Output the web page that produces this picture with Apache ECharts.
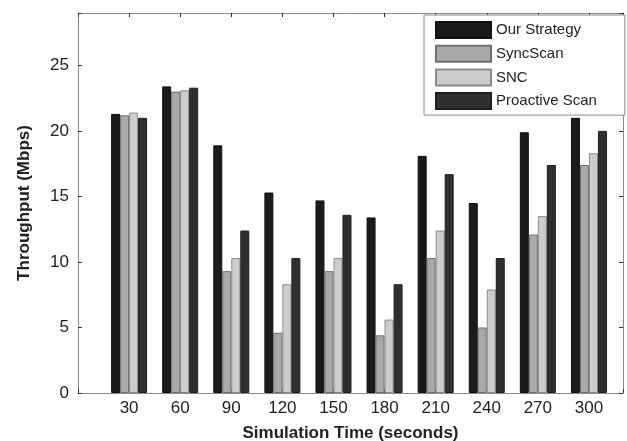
<!DOCTYPE html>
<html>
<head>
<meta charset="utf-8">
<script src="https://cdn.jsdelivr.net/npm/echarts@6/dist/echarts.min.js"></script>
<style>
  html, body { margin: 0; padding: 0; background: #fff; }
  #chart { width: 627px; height: 441px; }
</style>
</head>
<body>
<div id="chart"></div>
<script>
// simulation times (x positions)
var times = [30, 60, 90, 120, 150, 180, 210, 240, 270, 300]
var seriesNames = ['Our Strategy', 'SyncScan', 'SNC', 'Proactive Scan']
var ourStrategy = [21.3, 23.4, 18.9, 15.3, 14.7, 13.4, 18.1, 14.5, 19.9, 21.0]
var syncScan = [21.2, 23.0, 9.3, 4.6, 9.3, 4.4, 10.3, 5.0, 12.1, 17.4]
var snc = [21.4, 23.1, 10.3, 8.3, 10.3, 5.6, 12.4, 7.9, 13.5, 18.3]
var proactiveScan = [21.0, 23.3, 12.4, 10.3, 13.6, 8.3, 16.7, 10.3, 17.4, 20.0]
var yTicks = [0, 5, 10, 15, 20, 25]

var colors = ['#1b1b1b', '#a9a9a9', '#cdcdcd', '#2f2f2f']
var borders = ['#111111', '#707070', '#8a8a8a', '#1e1e1e']
var allValues = [ourStrategy, syncScan, snc, proactiveScan]

var chart = echarts.init(document.getElementById('chart'))

var series = []
allValues.forEach(function (vals, i) {
    series.push({
        name: seriesNames[i],
        type: 'bar',
        xAxisIndex: 0,
        yAxisIndex: 0,
        barWidth: 9,
        barGap: '0%',
        data: times.map(function (t, k) { return [t, vals[k]] }),
        itemStyle: { color: colors[i], borderColor: borders[i], borderWidth: 1 }
    })
})

var axisLine = { show: true, onZero: false, lineStyle: { color: '#8a8a8a', width: 1 } }
var tickInside = { show: true, inside: true, length: 4, lineStyle: { color: '#333' } }

chart.setOption({
    animation: false,
    backgroundColor: '#fff',
    textStyle: { fontFamily: 'Liberation Sans, Arial, sans-serif' },
    grid: { left: 78, right: 4, top: 13, bottom: 48, containLabel: false, outerBoundsMode: 'none' },
    legend: {
        orient: 'vertical',
        left: 424,
        top: 15,
        padding: [6, 28, 5, 11],
        icon: 'rect',
        itemWidth: 55,
        itemHeight: 16,
        itemGap: 5.7,
        backgroundColor: '#fff',
        borderColor: '#8a8a8a',
        borderWidth: 1,
        borderRadius: 0,
        textStyle: { fontSize: 15, color: '#222' },
        data: seriesNames
    },
    xAxis: [{
        type: 'value',
        min: 0,
        max: 320,
        interval: 30,
        name: 'Simulation Time (seconds)',
        nameLocation: 'middle',
        nameGap: 32,
        nameTextStyle: { fontSize: 17, fontWeight: 'bold', color: '#222' },
        axisLine: axisLine,
        axisTick: tickInside,
        splitLine: { show: false },
        axisLabel: {
            fontSize: 17,
            color: '#222',
            margin: 7,
            formatter: function (v) { return (v > 0 && v <= 300) ? String(v) : '' }
        }
    }, {
        type: 'value',
        position: 'top',
        min: 0,
        max: 320,
        interval: 30,
        axisLine: axisLine,
        axisTick: tickInside,
        axisLabel: { show: false },
        splitLine: { show: false }
    }],
    yAxis: [{
        type: 'value',
        min: 0,
        max: 29,
        interval: 5,
        name: 'Throughput (Mbps)',
        nameLocation: 'middle',
        nameGap: 45,
        nameTextStyle: { fontSize: 17, fontWeight: 'bold', color: '#222' },
        axisLine: axisLine,
        axisTick: tickInside,
        splitLine: { show: false },
        axisLabel: {
            fontSize: 17,
            color: '#222',
            margin: 9,
            formatter: function (v) { return yTicks.indexOf(v) >= 0 ? String(v) : '' }
        }
    }, {
        type: 'value',
        position: 'right',
        min: 0,
        max: 29,
        interval: 5,
        axisLine: axisLine,
        axisTick: tickInside,
        axisLabel: { show: false },
        splitLine: { show: false }
    }],
    series: series
})
</script>
</body>
</html>
